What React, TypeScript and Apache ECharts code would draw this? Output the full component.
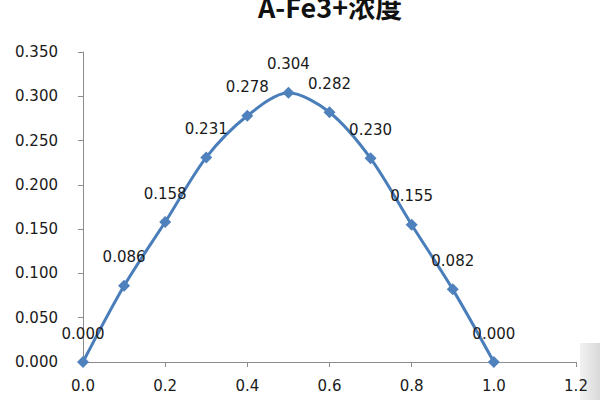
import React, { useEffect, useRef } from "react";
import * as echarts from "echarts";

const titleText = "A-Fe3+浓度";
const xValues = [0.0, 0.1, 0.2, 0.3, 0.4, 0.5, 0.6, 0.7, 0.8, 0.9, 1.0];
const yValues = [0.0, 0.086, 0.158, 0.231, 0.278, 0.304, 0.282, 0.23, 0.155, 0.082, 0.0];

const App: React.FC = () => {
  const chartRef = useRef<HTMLDivElement>(null);

  useEffect(() => {
    if (!chartRef.current) return;
    const chart = echarts.init(chartRef.current, undefined, { renderer: "svg" });

    const axisColor = "#8c8c8c";
    const labelColor = "#1a1a1a";
    const font = "'DejaVu Sans', sans-serif";

    const option: echarts.EChartsOption = {
      animation: false,
      backgroundColor: "#ffffff",
      title: {
        text: titleText,
        left: 253,
        top: -12,
        textStyle: {
          fontFamily: "'Noto Sans CJK SC', sans-serif",
          fontSize: 27,
          fontWeight: "bold",
          color: "#111111",
        },
      },
      grid: { left: 83, right: 24, top: 52, bottom: 38, containLabel: false },
      xAxis: {
        type: "value",
        min: 0,
        max: 1.2,
        interval: 0.2,
        splitLine: { show: false },
        axisLine: { lineStyle: { color: axisColor } },
        axisTick: { show: true, length: 5, lineStyle: { color: axisColor } },
        axisLabel: {
          color: labelColor,
          fontSize: 15,
          fontFamily: font,
          margin: 16,
          formatter: (v: number) => v.toFixed(1),
        },
      },
      yAxis: {
        type: "value",
        min: 0,
        max: 0.35,
        interval: 0.05,
        splitLine: { show: false },
        axisLine: { show: true, lineStyle: { color: axisColor } },
        axisTick: { show: true, length: 5, lineStyle: { color: axisColor } },
        axisLabel: {
          color: labelColor,
          fontSize: 15,
          fontFamily: font,
          margin: 25,
          formatter: (v: number) => v.toFixed(3),
        },
      },
      series: [
        {
          type: "line",
          smooth: 0.3,
          data: xValues.map((x, i) => [x, yValues[i]]),
          symbol: "diamond",
          symbolSize: 12,
          lineStyle: { color: "#4a7ebb", width: 3 },
          itemStyle: { color: "#4f81bd" },
          label: {
            show: true,
            position: "top",
            distance: 15,
            color: labelColor,
            fontSize: 15,
            fontFamily: font,
            formatter: (p: any) => (p.value[1] as number).toFixed(3),
          },
        },
      ],
      graphic: [
        {
          type: "rect",
          shape: { x: 580, y: 343, width: 20, height: 57 },
          style: {
            fill: new echarts.graphic.LinearGradient(0, 0, 1, 0, [
              { offset: 0, color: "#f2f2f2" },
              { offset: 1, color: "#d9d9d9" },
            ]),
          },
        },
      ],
    };

    chart.setOption(option);
    return () => {
      chart.dispose();
    };
  }, []);

  return (
    <div
      ref={chartRef}
      style={{ position: "fixed", left: 0, top: 0, width: 600, height: 400 }}
    />
  );
};

export default App;
